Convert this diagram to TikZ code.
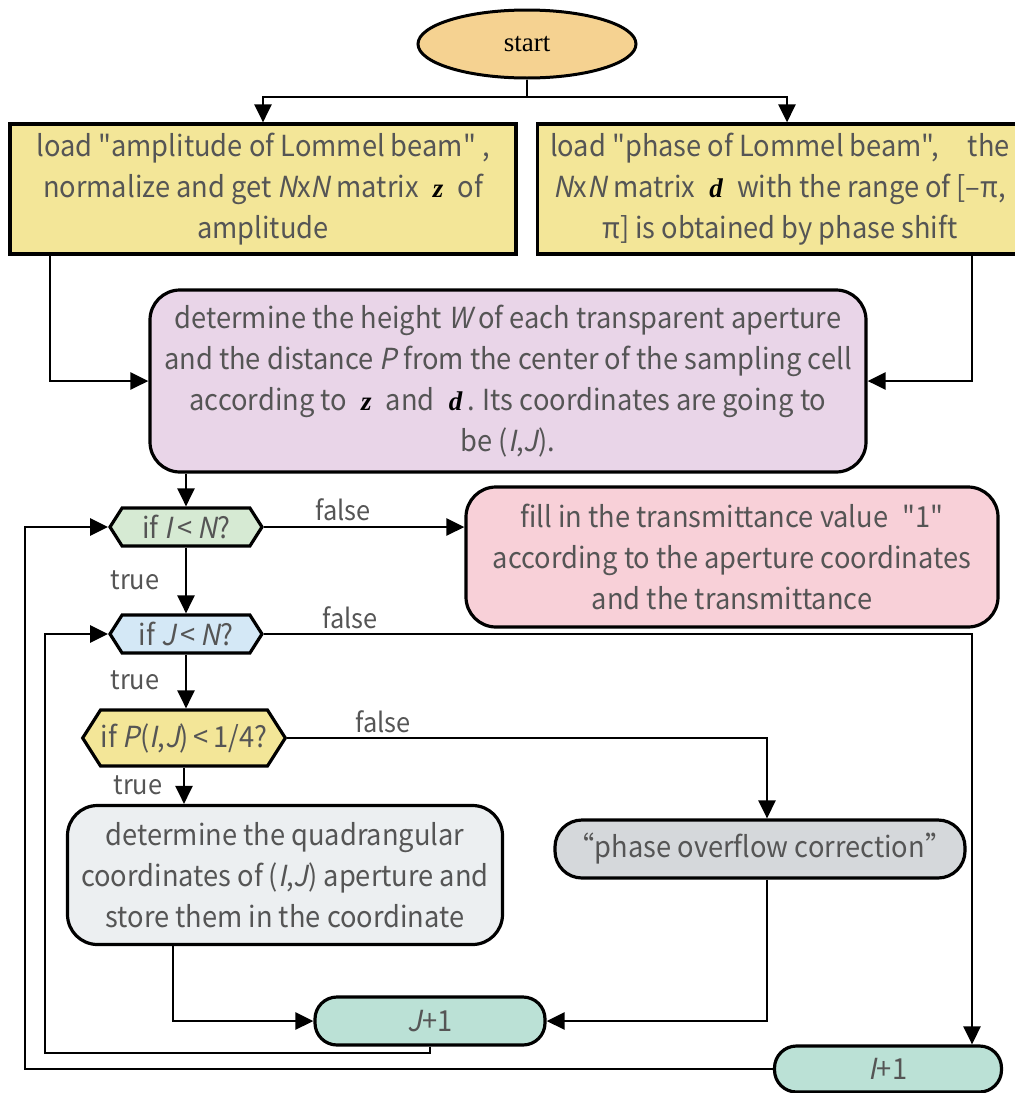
\documentclass[tikz,border=0pt]{standalone}
\usepackage{fontspec}
\newfontfamily\nsans[AutoFakeSlant=0.2,FakeStretch=0.94]{Noto Sans CJK SC}
\newfontfamily\lserif{Liberation Serif}
\newcommand{\bvar}[1]{{\lserif\bfseries\itshape\fontsize{27}{41}\selectfont\textcolor{black}{#1}}}
\usetikzlibrary{arrows.meta,shapes.geometric,shapes.symbols}
\definecolor{tgray}{RGB}{85,85,85}
\definecolor{cstart}{RGB}{245,210,145}
\definecolor{cyel}{RGB}{243,230,152}
\definecolor{cpur}{RGB}{233,213,232}
\definecolor{cgrn}{RGB}{214,234,211}
\definecolor{cpink}{RGB}{248,208,216}
\definecolor{cblue}{RGB}{212,232,246}
\definecolor{cgrey}{RGB}{236,239,241}
\definecolor{cphase}{RGB}{213,216,219}
\definecolor{cteal}{RGB}{187,225,214}
\begin{document}
\begin{tikzpicture}[x=1pt,y=-1pt,
  txt/.style={font=\nsans\fontsize{29}{41}\selectfont, text=tgray, align=center},
  lbl/.style={font=\nsans\fontsize{27}{30}\selectfont, text=tgray},
  bx/.style={txt, draw=black, line width=3.2pt, inner sep=0pt},
  hexa/.style={bx, shape=signal, signal to=west and east, signal pointer angle=115},
  stad/.style={bx, rectangle, rounded corners=22pt},
  arr/.style={line width=2.8pt, -{Triangle[length=18pt,width=17pt]}},
  ln/.style={line width=2.8pt}]
\useasboundingbox (0,0) rectangle (1015,1093);
\clip (0,0) rectangle (1015,1093);
% nodes
\node[ellipse, draw=black, line width=3pt, fill=cstart, minimum width=218pt, minimum height=68pt, inner sep=0pt, font=\lserif\fontsize{27}{30}\selectfont] (start) at (527,44) {start};
\node[bx, rectangle, fill=cyel, minimum width=506pt, minimum height=130pt] (b1) at (263,189)
 {load "amplitude of Lommel beam" ,\\ normalize and get \textit{N}x\textit{N} matrix \;\bvar{z}\; of\\ amplitude};
\node[bx, rectangle, fill=cyel, minimum width=485pt, minimum height=130pt] (b2) at (780,189)
 {load "phase of Lommel beam",\quad the\\ \textit{N}x\textit{N} matrix \;\bvar{d}\; with the range of [–π,\\ π] is obtained by phase shift};
\node[bx, rectangle, rounded corners=30pt, fill=cpur, minimum width=716pt, minimum height=182pt] (pp) at (508,381)
 {determine the height \textit{W} of each transparent aperture\\ and the distance \textit{P} from the center of the sampling cell\\ according to \;\bvar{z}\; and \;\bvar{d}\,. Its coordinates are going to\\ be (\textit{I},\textit{J}).};
\node[hexa, fill=cgrn, minimum width=152pt, minimum height=38pt] (h1) at (186,527) {if \textit{I}\,<\,\textit{N}?};
\node[bx, rectangle, rounded corners=30pt, fill=cpink, minimum width=532pt, minimum height=140pt] (pk) at (732,557)
 {fill in the transmittance value \;"1"\\ according to the aperture coordinates\\ and the transmittance};
\node[hexa, fill=cblue, minimum width=152pt, minimum height=38pt] (h2) at (186,634) {if \textit{J}\,<\,\textit{N}?};
\node[hexa, fill=cyel, minimum width=197pt, minimum height=56pt] (h3) at (184,738) {if \textit{P}(\textit{I},\textit{J})\,<\,1/4?};
\node[bx, rectangle, rounded corners=30pt, fill=cgrey, minimum width=435pt, minimum height=139pt] (gr) at (285,875)
 {determine the quadrangular\\ coordinates of (\textit{I},\textit{J}) aperture and\\ store them in the coordinate};
\node[stad, fill=cphase, minimum width=410pt, minimum height=58pt, rounded corners=27pt] (ph) at (760,849) {“phase overflow correction”};
\node[stad, fill=cteal, minimum width=230pt, minimum height=48pt] (j1) at (430,1021) {\textit{J}+1};
\node[stad, fill=cteal, minimum width=227pt, minimum height=46pt] (i1) at (888,1069) {\textit{I}+1};
% labels
\node[lbl] (lf1) at (343,510) {false};
\node[lbl] (lt1) at (135,580) {true};
\node[lbl] (lf2) at (350,618) {false};
\node[lbl] (lt2) at (135,680) {true};
\node[lbl] (lf3) at (383,722) {false};
\node[lbl] (lt3) at (138,785) {true};
% coordinates
\coordinate (sp) at (527,97);
\coordinate (c1) at (50,0);
\coordinate (c2) at (972,0);
\coordinate (c3) at (767,0);
\coordinate (c4) at (173,0);
\coordinate (c5) at (45,1053);
\coordinate (c6) at (25,0);
\coordinate (c7) at (787,0);
% connectors
\draw[ln] (start.south) -- (sp);
\draw[arr] (sp) -| (b1.north);
\draw[arr] (sp) -| (c7 |- b2.north);
\draw[arr] (c1 |- b1.south) |- (pp.west);
\draw[arr] (c2 |- b2.south) |- (pp.east);
\draw[arr] (h1.north |- pp.south) -- (h1.north);
\draw[arr] (h1.east) -- (h1.east -| pk.west);
\draw[arr] (h1.south) -- (h2.north);
\draw[arr] (h2.east) -| (c2 |- i1.north);
\draw[arr] (h2.south) -- (h2.south |- h3.north);
\draw[arr] (h3.east) -| (c3 |- ph.north);
\draw[arr] (h3.south) -- (h3.south |- gr.north);
\draw[arr] (c4 |- gr.south) |- (j1.west);
\draw[arr] (c3 |- ph.south) |- (j1.east);
\draw[arr] (j1.south) |- (c5) |- (h2.west);
\draw[arr] (i1.west) -| (c6 |- h1.west) -- (h1.west);
\end{tikzpicture}
\end{document}
